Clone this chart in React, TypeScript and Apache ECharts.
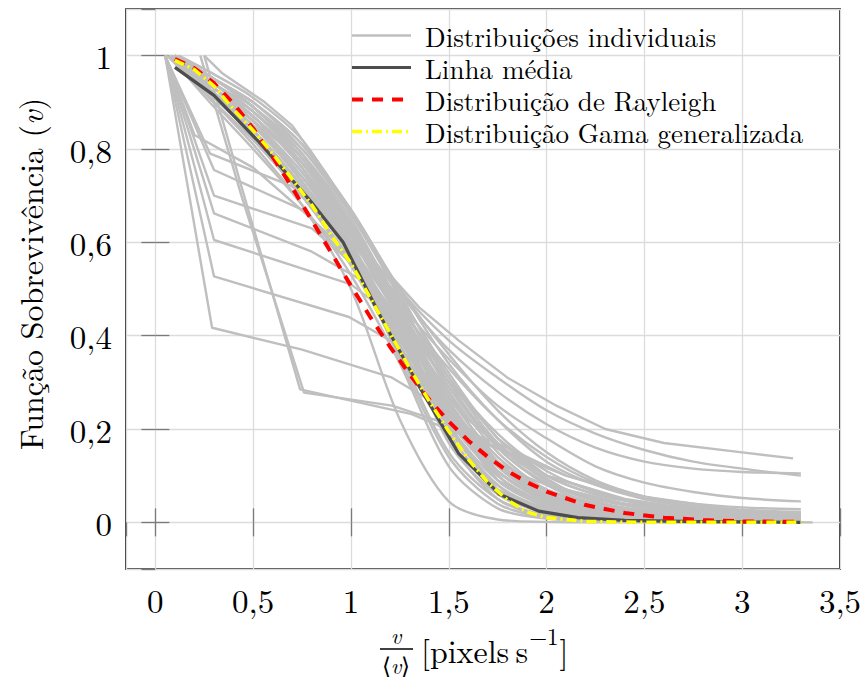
import React, { useEffect, useRef } from 'react';
import * as echarts from 'echarts';

const FONT = 'Latin Modern Roman';

const NAME_IND = 'Distribuições individuais';
const NAME_MEAN = 'Linha média';
const NAME_RAY = 'Distribuição de Rayleigh';
const NAME_GAMMA = 'Distribuição Gama generalizada';

// shared x positions of the smooth individual curves
const coreGridX = [0.3, 0.5, 0.75, 1.0, 1.25, 1.5, 1.75, 2.0, 2.25, 2.5, 2.75, 3.0, 3.3];
const coreStartX = [0.1, 0.08, 0.1, 0.06, 0.1, 0.12, 0.08, 0.1, 0.07, 0.1, 0.09, 0.1, 0.11, 0.09,
  0.1, 0.08, 0.1, 0.1, 0.1, 0.1, 0.12, 0.09, 0.1, 0.1, 0.07, 0.1, 0.08, 0.11,
  0.09, 0.1, 0.08, 0.1, 0.1, 0.11, 0.09, 0.1, 0.08, 0.1];
const coreValues = [
  [0.95, 0.90, 0.81, 0.67, 0.50, 0.36, 0.24, 0.15, 0.09, 0.055, 0.035, 0.027, 0.022],
  [0.93, 0.87, 0.76, 0.62, 0.45, 0.25, 0.11, 0.05, 0.025, 0.015, 0.010, 0.008, 0.006],
  [0.92, 0.85, 0.74, 0.60, 0.40, 0.20, 0.08, 0.03, 0.012, 0.006, 0.004, 0.003, 0.002],
  [0.90, 0.82, 0.71, 0.58, 0.42, 0.22, 0.10, 0.04, 0.020, 0.010, 0.007, 0.005, 0.004],
  [0.94, 0.88, 0.78, 0.64, 0.44, 0.18, 0.05, 0.012, 0.004, 0.002, 0.001, 0.001, 0.001],
  [0.96, 0.91, 0.82, 0.66, 0.50, 0.34, 0.22, 0.13, 0.08, 0.05, 0.033, 0.024, 0.02],
  [0.91, 0.83, 0.70, 0.55, 0.36, 0.15, 0.05, 0.015, 0.006, 0.003, 0.002, 0.001, 0.001],
  [0.93, 0.86, 0.75, 0.60, 0.48, 0.32, 0.18, 0.10, 0.06, 0.04, 0.03, 0.02, 0.015],
  [0.89, 0.80, 0.68, 0.53, 0.34, 0.12, 0.03, 0.008, 0.003, 0.001, 0.001, 0, 0],
  [0.95, 0.89, 0.79, 0.65, 0.46, 0.26, 0.12, 0.06, 0.03, 0.02, 0.015, 0.012, 0.01],
  [0.90, 0.81, 0.68, 0.50, 0.22, 0.045, 0.006, 0.001, 0, 0, 0, 0, 0],
  [0.94, 0.87, 0.76, 0.59, 0.38, 0.22, 0.12, 0.07, 0.04, 0.025, 0.018, 0.014, 0.012],
  [0.93, 0.86, 0.73, 0.58, 0.43, 0.28, 0.15, 0.07, 0.035, 0.02, 0.014, 0.01, 0.008],
  [0.91, 0.83, 0.71, 0.57, 0.39, 0.23, 0.13, 0.08, 0.05, 0.035, 0.025, 0.02, 0.016],
  [0.95, 0.90, 0.81, 0.66, 0.48, 0.28, 0.13, 0.05, 0.02, 0.01, 0.006, 0.004, 0.003],
  [0.92, 0.85, 0.73, 0.59, 0.41, 0.17, 0.06, 0.02, 0.008, 0.004, 0.003, 0.002, 0.002],
  [0.95, 0.89, 0.79, 0.63, 0.49, 0.37, 0.28, 0.21, 0.16, 0.13, 0.115, 0.108, 0.105],
  [0.94, 0.87, 0.77, 0.62, 0.47, 0.35, 0.25, 0.18, 0.12, 0.085, 0.065, 0.052, 0.045],
  [0.93, 0.86, 0.75, 0.61, 0.46, 0.33, 0.22, 0.14, 0.085, 0.055, 0.04, 0.032, 0.028],
  [0.95, 0.90, 0.80, 0.66, 0.50, 0.39, 0.31, 0.24, 0.19, 0.155, 0.13, 0.115, 0.10],
  [0.95, 0.89, 0.78, 0.62, 0.45, 0.27, 0.14, 0.07, 0.04, 0.025, 0.02, 0.017, 0.015],
  [0.91, 0.84, 0.72, 0.57, 0.35, 0.14, 0.04, 0.01, 0.003, 0.001, 0, 0, 0],
  [0.94, 0.88, 0.78, 0.63, 0.43, 0.21, 0.08, 0.025, 0.008, 0.003, 0.002, 0.001, 0.001],
  [0.92, 0.85, 0.74, 0.61, 0.44, 0.24, 0.09, 0.035, 0.015, 0.008, 0.005, 0.004, 0.003],
  [0.92, 0.86, 0.77, 0.64, 0.47, 0.30, 0.16, 0.08, 0.04, 0.022, 0.014, 0.01, 0.008],
  [0.93, 0.87, 0.77, 0.63, 0.45, 0.29, 0.17, 0.10, 0.06, 0.04, 0.028, 0.022, 0.018],
  [0.90, 0.82, 0.70, 0.56, 0.38, 0.19, 0.07, 0.025, 0.01, 0.005, 0.003, 0.002, 0.002],
  [0.94, 0.89, 0.80, 0.67, 0.49, 0.31, 0.17, 0.09, 0.05, 0.03, 0.02, 0.015, 0.012],
  [0.92, 0.85, 0.73, 0.58, 0.40, 0.21, 0.09, 0.035, 0.014, 0.007, 0.004, 0.003, 0.002],
  [0.93, 0.86, 0.74, 0.59, 0.42, 0.25, 0.12, 0.05, 0.02, 0.01, 0.006, 0.005, 0.004],
  [0.91, 0.84, 0.72, 0.58, 0.41, 0.23, 0.10, 0.04, 0.016, 0.008, 0.005, 0.004, 0.003],
  [0.94, 0.88, 0.77, 0.62, 0.44, 0.26, 0.13, 0.06, 0.028, 0.015, 0.01, 0.008, 0.006],
  [0.92, 0.84, 0.72, 0.57, 0.40, 0.24, 0.12, 0.055, 0.025, 0.013, 0.008, 0.006, 0.005],
  [0.95, 0.89, 0.79, 0.64, 0.46, 0.29, 0.16, 0.085, 0.045, 0.025, 0.016, 0.012, 0.01],
  [0.90, 0.82, 0.70, 0.56, 0.39, 0.22, 0.11, 0.05, 0.022, 0.011, 0.007, 0.005, 0.004],
  [0.93, 0.87, 0.76, 0.61, 0.43, 0.25, 0.11, 0.045, 0.018, 0.009, 0.006, 0.004, 0.003],
  [0.91, 0.83, 0.72, 0.59, 0.44, 0.27, 0.14, 0.065, 0.03, 0.016, 0.01, 0.008, 0.006],
  [0.94, 0.88, 0.78, 0.64, 0.47, 0.31, 0.19, 0.11, 0.065, 0.04, 0.027, 0.02, 0.016],
];

// individual curves with sharp kinks
const upperCurve = [[0.25, 1], [0.34, 0.963], [0.56, 0.90], [0.7, 0.85], [0.87, 0.75], [1.06, 0.63],
  [1.2, 0.53], [1.35, 0.46], [1.55, 0.39], [1.8, 0.31], [2.05, 0.25], [2.3, 0.2], [2.6, 0.17],
  [3.0, 0.15], [3.26, 0.137]];
const steepCurves = [
  [[0.05, 1], [0.29, 0.417], [0.75, 0.37], [1.21, 0.31], [1.45, 0.25], [1.7, 0.17], [2.0, 0.10], [2.4, 0.05], [2.8, 0.025], [3.3, 0.015]],
  [[0.05, 1], [0.3, 0.527], [0.99, 0.44], [1.2, 0.39], [1.4, 0.31], [1.6, 0.22], [1.85, 0.13], [2.1, 0.07], [2.5, 0.03], [3.0, 0.012], [3.3, 0.008]],
  [[0.05, 1], [0.3, 0.605], [1.0, 0.51], [1.25, 0.43], [1.5, 0.30], [1.75, 0.18], [2.0, 0.10], [2.5, 0.035], [3.0, 0.012], [3.3, 0.008]],
  [[0.05, 1], [0.3, 0.662], [0.8, 0.58], [1.05, 0.52], [1.3, 0.40], [1.5, 0.25], [1.75, 0.12], [2.0, 0.05], [2.5, 0.015], [3.3, 0.004]],
  [[0.05, 1], [0.3, 0.70], [0.8, 0.63], [1.1, 0.52], [1.35, 0.36], [1.55, 0.2], [1.8, 0.08], [2.1, 0.02], [2.6, 0.004], [3.3, 0.001]],
  [[0.05, 1], [0.3, 0.755], [0.75, 0.67], [1.05, 0.55], [1.3, 0.39], [1.5, 0.23], [1.75, 0.09], [2.0, 0.03], [2.5, 0.005], [3.3, 0.001]],
  [[0.05, 1], [0.28, 0.79], [0.7, 0.72], [1.0, 0.59], [1.3, 0.38], [1.5, 0.2], [1.75, 0.07], [2.0, 0.02], [2.5, 0.003], [3.3, 0.001]],
  [[0.05, 1], [0.2, 0.83], [0.5, 0.76], [0.8, 0.65], [1.05, 0.53], [1.3, 0.37], [1.5, 0.2], [1.75, 0.06], [2.0, 0.015], [2.5, 0.002], [3.36, 0]],
];
const kinkCurves = [
  [[0.25, 1], [0.44, 0.72], [0.74, 0.285], [1.31, 0.232], [1.55, 0.19], [1.8, 0.15], [2.1, 0.10], [2.5, 0.055], [3.0, 0.025], [3.3, 0.018]],
  [[0.23, 1], [0.44, 0.70], [0.76, 0.278], [1.21, 0.25], [1.5, 0.21], [1.8, 0.16], [2.1, 0.10], [2.5, 0.05], [3.0, 0.02], [3.3, 0.014]],
];

const meanLine = [[0.1, 0.975], [0.3, 0.915], [0.53, 0.815], [0.79, 0.69], [0.96, 0.60], [1.14, 0.45],
  [1.35, 0.29], [1.55, 0.148], [1.76, 0.06], [1.96, 0.024], [2.16, 0.01], [2.4, 0.004], [2.7, 0.002],
  [3.0, 0.001], [3.3, 0.0]];

const fitX = [0.1, 0.2, 0.3, 0.4, 0.5, 0.6, 0.7, 0.8, 0.9, 1.0, 1.1, 1.2, 1.3, 1.4, 1.5, 1.6, 1.7, 1.8,
  1.9, 2.0, 2.2, 2.4, 2.6, 2.8, 3.0, 3.3];
const rayleighY = [0.993, 0.973, 0.941, 0.897, 0.844, 0.783, 0.717, 0.647, 0.577, 0.507, 0.439, 0.376,
  0.317, 0.263, 0.216, 0.175, 0.140, 0.110, 0.086, 0.066, 0.037, 0.020, 0.010, 0.005, 0.002, 0.001];
const gammaY = [0.99, 0.97, 0.935, 0.885, 0.84, 0.79, 0.735, 0.68, 0.615, 0.555, 0.48, 0.405, 0.33,
  0.26, 0.195, 0.135, 0.085, 0.048, 0.022, 0.010, 0.002, 0.0005, 0, 0, 0, 0];

const GRAY = '#bfbfbf';

function fmt(step: number) {
  return (v: number) => {
    const k = v / step;
    if (Math.abs(k - Math.round(k)) > 1e-6) return '';
    const r = Math.round(v * 10) / 10;
    return String(r).replace('.', ',');
  };
}

function measure(text: string, size: number) {
  const c = document.createElement('canvas').getContext('2d');
  if (!c) return text.length * size * 0.45;
  c.font = `${size}px ${FONT}`;
  return c.measureText(text).width;
}

export default function App() {
  const ref = useRef<HTMLDivElement>(null);
  useEffect(() => {
    if (!ref.current) return;
    const chart = echarts.init(ref.current, undefined, { renderer: 'svg' });

    const grayStyle = { color: GRAY, width: 2.4 };
    const series: any[] = [];
    coreValues.forEach((vals, i) => {
      const data = [[coreStartX[i], 1], ...coreGridX.map((x, j) => [x, vals[j]])];
      series.push({ type: 'line', name: NAME_IND, data, symbol: 'none', smooth: 0.3, color: GRAY, lineStyle: grayStyle, silent: true, z: 2 });
    });
    [upperCurve, ...steepCurves, ...kinkCurves].forEach((data) => {
      series.push({ type: 'line', name: NAME_IND, data, symbol: 'none', smooth: false, color: GRAY, lineStyle: grayStyle, silent: true, z: 2 });
    });
    series.push({ type: 'line', name: NAME_MEAN, data: meanLine, symbol: 'none', color: '#4d4d4d', lineStyle: { color: '#4d4d4d', width: 3.2 }, z: 3 });
    series.push({ type: 'line', name: NAME_RAY, data: fitX.map((x, i) => [x, rayleighY[i]]), symbol: 'none', color: '#ff0000', lineStyle: { color: '#ff0000', width: 4, type: [11, 9] }, z: 4 });
    series.push({ type: 'line', name: NAME_GAMMA, data: fitX.map((x, i) => [x, gammaY[i]]), symbol: 'none', color: '#ffff00', lineStyle: { color: '#ffff00', width: 3.5, type: [10, 4, 2, 4] }, z: 5 });

    const tickStyle = { show: true, inside: true, length: 14, lineStyle: { color: '#7a7a7a', width: 1.3 } };
    const xBase = { type: 'value', min: -0.15, max: 3.5, minInterval: 0.5, maxInterval: 0.5, splitNumber: 7, axisLine: { show: false } };
    const yBase = { type: 'value', min: -0.1, max: 1.1, minInterval: 0.2, maxInterval: 0.2, splitNumber: 6, axisLine: { show: false } };

    const bracketText = '[pixels\u2009s';
    const bx = 421;
    const w1 = measure(bracketText, 32);
    const w2 = measure('\u22121', 23);

    const txt = (extra: any) => ({ fontFamily: FONT, fill: '#000', align: 'left', verticalAlign: 'middle', ...extra });

    chart.setOption({
      animation: false,
      backgroundColor: '#fff',
      textStyle: { fontFamily: FONT },
      grid: { left: 126, top: 9, width: 714, height: 560, show: true, borderColor: '#000', borderWidth: 1.6, backgroundColor: 'rgba(0,0,0,0)' },
      xAxis: [
        { ...xBase, position: 'bottom', axisTick: tickStyle,
          axisLabel: { formatter: fmt(0.5), fontSize: 33, fontFamily: FONT, color: '#000', margin: 14, showMinLabel: false },
          splitLine: { show: true, lineStyle: { color: '#dcdcdc', width: 1.3 } } },
        { ...xBase, position: 'top', axisTick: tickStyle, axisLabel: { show: false }, splitLine: { show: false } },
      ],
      yAxis: [
        { ...yBase, position: 'left', axisTick: tickStyle,
          axisLabel: { formatter: fmt(0.2), fontSize: 33, fontFamily: FONT, color: '#000', margin: 14, showMinLabel: false, showMaxLabel: false },
          splitLine: { show: true, lineStyle: { color: '#dcdcdc', width: 1.3 } } },
        { ...yBase, position: 'right', axisTick: tickStyle, axisLabel: { show: false }, splitLine: { show: false } },
      ],
      legend: {
        data: [NAME_IND, NAME_MEAN, NAME_RAY, NAME_GAMMA],
        orient: 'vertical', left: 350, top: 22, padding: 0, itemWidth: 59, itemHeight: 14, itemGap: 5,
        selectedMode: false,
        itemStyle: { opacity: 0, color: 'rgba(0,0,0,0)', borderWidth: 0 },
        lineStyle: { width: 'inherit' },
        textStyle: { fontFamily: FONT, fontSize: 27, color: '#000', lineHeight: 27, padding: [0, 0, 0, 9] },
      },
      graphic: [
        { type: 'text', x: 29, y: 274, rotation: Math.PI / 2, silent: true,
          style: txt({ text: 'Função Sobrevivência ({i|v})', rich: { i: { fontStyle: 'italic', fontSize: 32, fontFamily: FONT, fill: '#000' } },
            fontSize: 32, align: 'center' }) },
        { type: 'text', x: 396, y: 634, silent: true,
          style: txt({ text: 'v', fontStyle: 'italic', fontSize: 23, align: 'center' }) },
        { type: 'line', silent: true, shape: { x1: 380, y1: 649, x2: 413, y2: 649 }, style: { stroke: '#000', lineWidth: 1.3 } },
        { type: 'text', x: 396, y: 664, silent: true,
          style: txt({ text: '⟨{i|v}⟩', rich: { i: { fontStyle: 'italic', fontSize: 23, fontFamily: FONT, fill: '#000' } }, fontSize: 23, align: 'center' }) },
        { type: 'text', x: bx, y: 649, silent: true, style: txt({ text: bracketText, fontSize: 32 }) },
        { type: 'text', x: bx + w1 + 1, y: 635, silent: true, style: txt({ text: '\u22121', fontSize: 23 }) },
        { type: 'text', x: bx + w1 + w2 + 2, y: 649, silent: true, style: txt({ text: ']', fontSize: 32 }) },
      ],
      series,
    });
    return () => chart.dispose();
  }, []);
  return <div ref={ref} style={{ position: 'fixed', left: 0, top: 0, width: 867, height: 679, background: '#fff' }} />;
}
